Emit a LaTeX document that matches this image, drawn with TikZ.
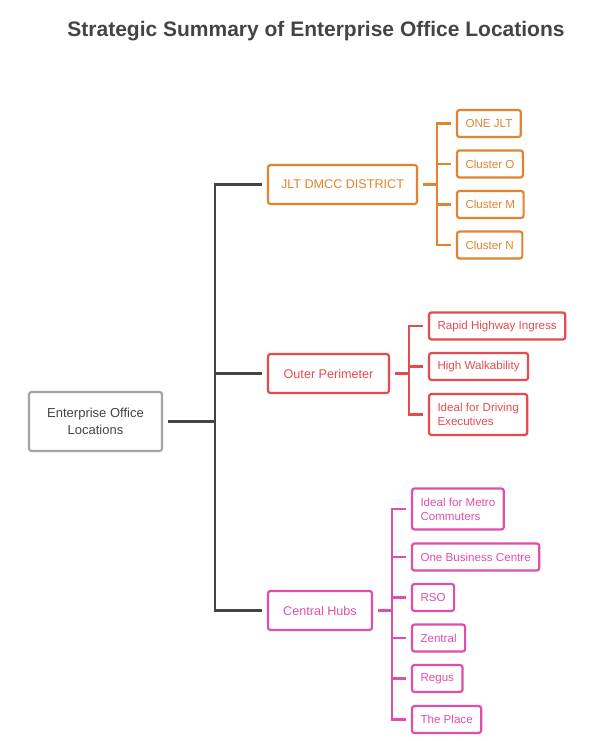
\documentclass[tikz,border=0pt]{standalone}
\usepackage{fontspec}
\setmainfont{Liberation Sans}
\usepackage{xcolor}
\usetikzlibrary{positioning}
\definecolor{locgrey}{HTML}{444444}
\definecolor{locrim}{HTML}{A3A3A3}
\definecolor{locorange}{HTML}{E3822F}
\definecolor{locred}{HTML}{E44B4F}
\definecolor{locpink}{HTML}{DF4FAA}

\begin{document}
\begin{tikzpicture}[x=1pt, y=-1pt,
      every node/.style={font=\fontsize{11.6}{14}\selectfont, outer sep=0pt},
      rootbox/.style={rectangle, rounded corners=2.5pt, draw=locrim, line width=2.2pt, text=locgrey,
        minimum width=133pt, minimum height=59pt, align=center, font=\fontsize{13}{17}\selectfont},
      branch/.style={rectangle, rounded corners=2.5pt, line width=2.2pt, draw=#1, text=#1, anchor=west,
        minimum height=39pt, inner xsep=6pt, font=\fontsize{12.6}{15}\selectfont},
      leaf/.style={rectangle, rounded corners=2.5pt, line width=2.2pt, draw=#1, text=#1, anchor=west,
        minimum height=27pt, inner xsep=8.5pt, align=left},
      tall/.style={minimum height=41pt},
      link/.style={line width=2.2pt, draw=#1, shorten <=6pt, shorten >=6pt}
    ]
    \useasboundingbox (0,0) rectangle (595,741);

    \node[font=\bfseries\fontsize{21}{24}\selectfont, text=locgrey] (title) at (316,31)
      {Strategic Summary of Enterprise Office Locations};

    \node[rootbox] (root) at (95.5,421.5) {Enterprise Office\\Locations};

    \node[branch=locorange, minimum width=149pt] (jlt) at (268,184.5) {JLT DMCC DISTRICT};
    \node[branch=locred, minimum width=121pt] (outer) at (268,373.5) {Outer Perimeter};
    \node[branch=locpink, minimum width=104pt] (central) at (268,610.5) {Central Hubs};

    % JLT leaves
    \node[leaf=locorange] (onejlt) at (457,123.5) {ONE JLT};
    \node[leaf=locorange] (clustero) at (457,164) {Cluster O};
    \node[leaf=locorange] (clusterm) at (457,204.5) {Cluster M};
    \node[leaf=locorange] (clustern) at (457,245) {Cluster N};

    % perimeter leaves
    \node[leaf=locred] (highway) at (429,326) {Rapid Highway Ingress};
    \node[leaf=locred] (walk) at (429,366.5) {High Walkability};
    \node[leaf=locred, tall] (driving) at (429,414.5) {Ideal for Driving\\Executives};

    % hub leaves
    \node[leaf=locpink, tall] (metro) at (412,509) {Ideal for Metro\\Commuters};
    \node[leaf=locpink] (onebiz) at (412,557) {One Business Centre};
    \node[leaf=locpink] (rso) at (412,597.5) {RSO};
    \node[leaf=locpink] (zentral) at (412,638) {Zentral};
    \node[leaf=locpink] (regus) at (412,678.5) {Regus};
    \node[leaf=locpink] (place) at (412,719.5) {The Place};

    \draw[link=locgrey] (root.east) -- ++(53,0) |- (jlt.west);
    \draw[link=locgrey] (root.east) -- ++(53,0) |- (outer.west);
    \draw[link=locgrey] (root.east) -- ++(53,0) |- (central.west);

    \draw[link=locorange] (jlt.east) -- ++(20,0) |- (onejlt.west);
    \draw[link=locorange] (jlt.east) -- ++(20,0) |- (clustero.west);
    \draw[link=locorange] (jlt.east) -- ++(20,0) |- (clusterm.west);
    \draw[link=locorange] (jlt.east) -- ++(20,0) |- (clustern.west);

    \draw[link=locred] (outer.east) -- ++(20,0) |- (highway.west);
    \draw[link=locred] (outer.east) -- ++(20,0) |- (walk.west);
    \draw[link=locred] (outer.east) -- ++(20,0) |- (driving.west);

    \draw[link=locpink] (central.east) -- ++(20,0) |- (metro.west);
    \draw[link=locpink] (central.east) -- ++(20,0) |- (onebiz.west);
    \draw[link=locpink] (central.east) -- ++(20,0) |- (rso.west);
    \draw[link=locpink] (central.east) -- ++(20,0) |- (zentral.west);
    \draw[link=locpink] (central.east) -- ++(20,0) |- (regus.west);
    \draw[link=locpink] (central.east) -- ++(20,0) |- (place.west);
  \end{tikzpicture}
\end{document}
